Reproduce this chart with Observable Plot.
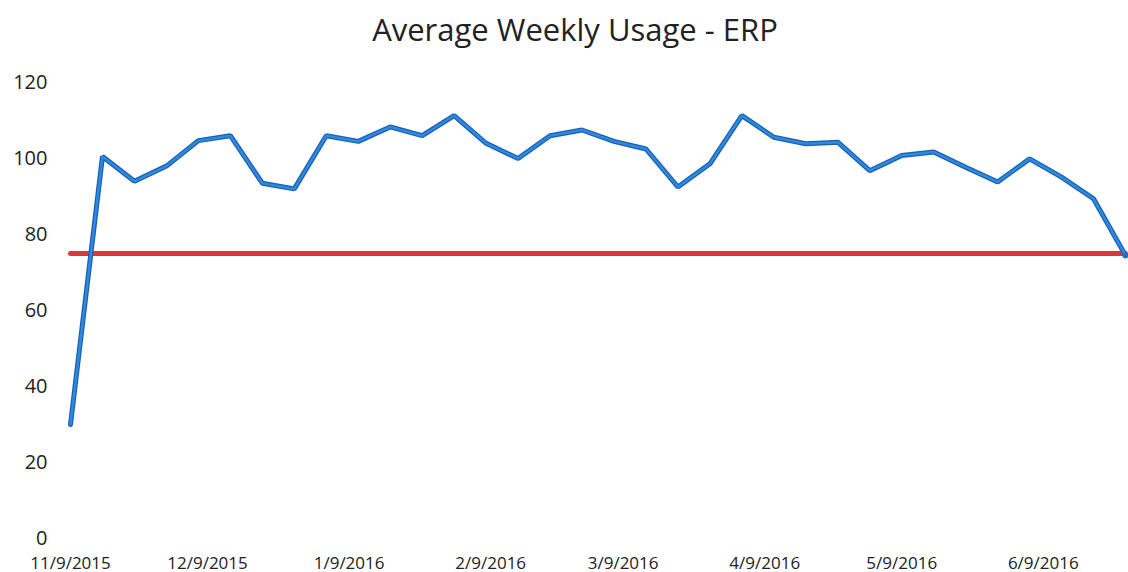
<!DOCTYPE html>
<html>
<head>
<meta charset="utf-8">
<script src="https://cdn.jsdelivr.net/npm/d3@7"></script>
<script src="https://cdn.jsdelivr.net/npm/@observablehq/plot@0.6"></script>
<style>
  html, body { margin: 0; padding: 0; background: #fff; }
  #title { height: 50px; line-height: 58px; font-family: "Open Sans", sans-serif; font-size: 31px; color: #222; text-align: center; padding-left: 22px; box-sizing: border-box; width: 1128px; }
  #chart svg { display: block; }
</style>
</head>
<body>
<div id="title">Average Weekly Usage - ERP</div>
<div id="chart"></div>
<script>
const weeks = [
  "2015-11-09","2015-11-16","2015-11-23","2015-11-30","2015-12-07","2015-12-14","2015-12-21","2015-12-28",
  "2016-01-04","2016-01-11","2016-01-18","2016-01-25","2016-02-01","2016-02-08","2016-02-15","2016-02-22",
  "2016-02-29","2016-03-07","2016-03-14","2016-03-21","2016-03-28","2016-04-04","2016-04-11","2016-04-18",
  "2016-04-25","2016-05-02","2016-05-09","2016-05-16","2016-05-23","2016-05-30","2016-06-06","2016-06-13",
  "2016-06-20","2016-06-27"
];
const usage = [
  30, 100.5, 94, 98, 104.7, 106, 93.5, 92,
  106, 104.5, 108.3, 106, 111.3, 104, 100, 106,
  107.5, 104.5, 102.5, 92.5, 98.6, 111.3, 105.6, 103.9,
  104.3, 96.8, 100.8, 101.7, 97.7, 93.8, 99.9, 95.1,
  89.4, 74.5
];
const target = 75;
const tickDates = ["2015-11-09","2015-12-09","2016-01-09","2016-02-09","2016-03-09","2016-04-09","2016-05-09","2016-06-09"];
const yTicks = [0, 20, 40, 60, 80, 100, 120];

const parse = d3.utcParse("%Y-%m-%d");
const data = weeks.map((w, i) => ({date: parse(w), value: usage[i]}));
const targetData = weeks.map(w => ({date: parse(w), value: target}));
const fmt = d3.utcFormat("%-m/%-d/%Y");

const chart = Plot.plot({
  width: 1128,
  height: 522,
  marginTop: 32,
  marginBottom: 34,
  marginLeft: 70,
  marginRight: 3,
  style: {fontFamily: "'Open Sans', sans-serif", background: "#fff", overflow: "visible"},
  x: {type: "utc", domain: [parse(weeks[0]), parse(weeks[weeks.length - 1])]},
  y: {domain: [0, 120]},
  marks: [
    Plot.axisX({ticks: tickDates.map(parse), tickFormat: fmt, tickSize: 0, tickPadding: 18, fontSize: 17, fill: "#222", label: null}),
    Plot.axisY({ticks: yTicks, tickSize: 0, tickPadding: 23, fontSize: 20, fill: "#222", label: null}),
    Plot.line(targetData, {x: "date", y: "value", stroke: "#d8393c", strokeWidth: 5}),
    Plot.line(data, {x: "date", y: "value", stroke: "#1d5fae", strokeWidth: 5, strokeLinejoin: "miter"}),
    Plot.line(data, {x: "date", y: "value", stroke: "#2b8ae2", strokeWidth: 2.5, strokeLinejoin: "miter"}),
    Plot.dot(data.slice(-1), {x: "date", y: "value", r: 3, fill: "#1f6fc4"})
  ]
});
document.getElementById("chart").appendChild(chart);
</script>
</body>
</html>
